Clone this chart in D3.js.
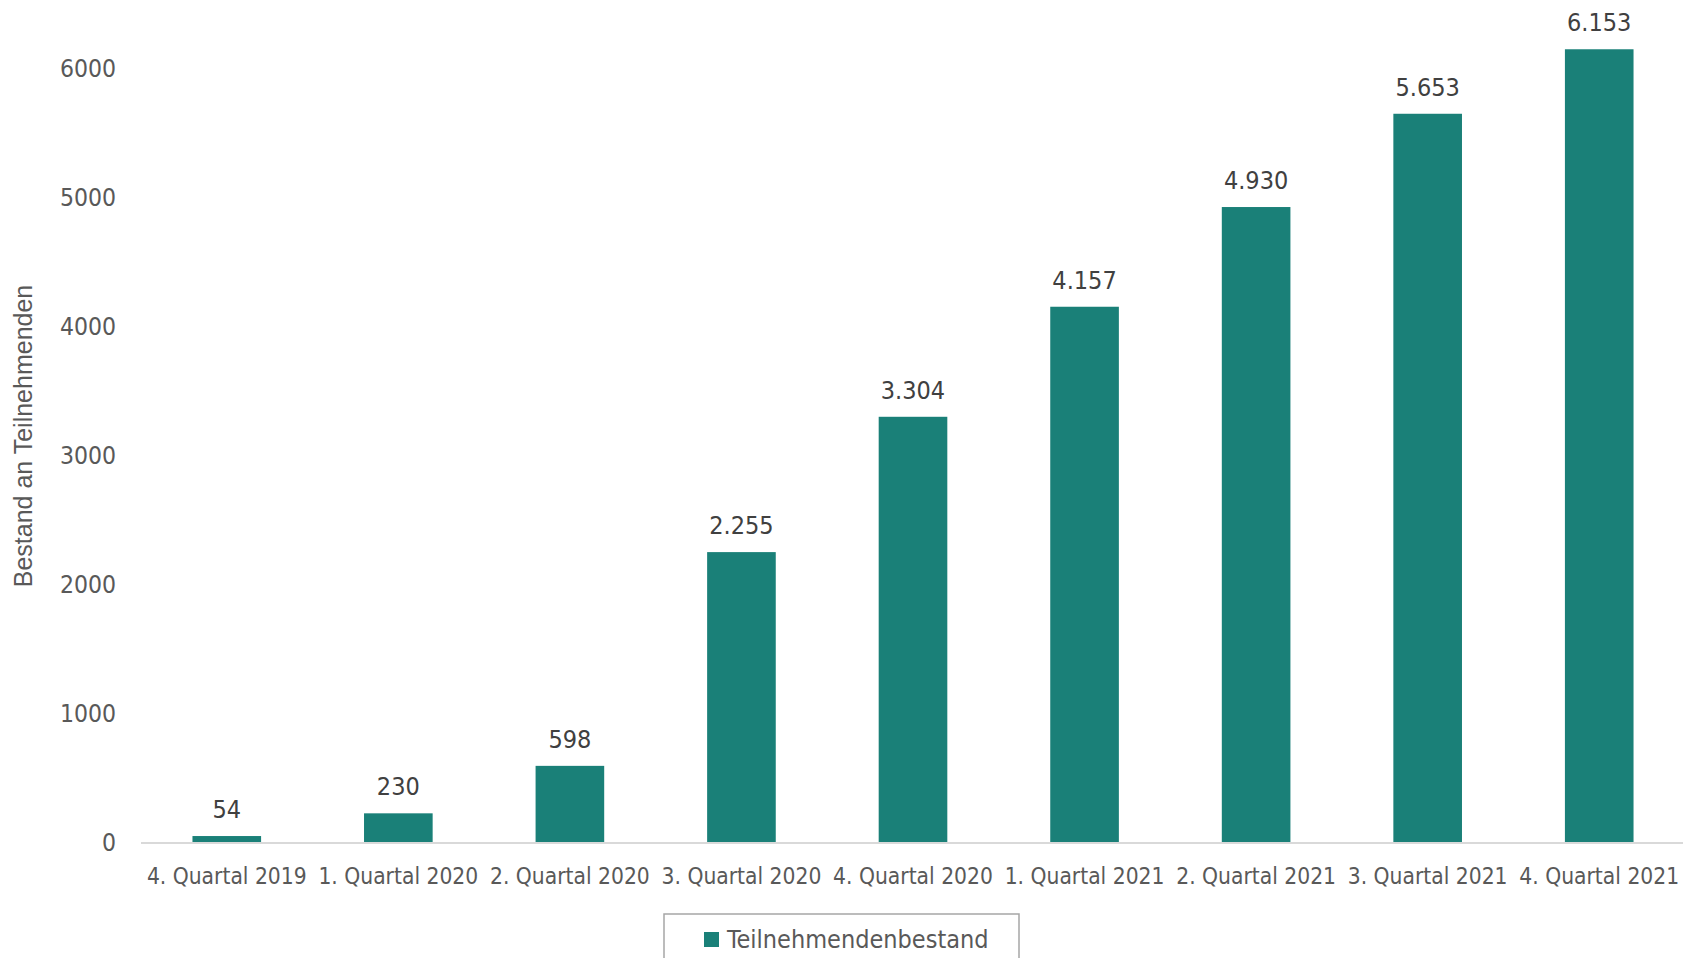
<!DOCTYPE html>
<html>
<head>
<meta charset="utf-8">
<script src="https://cdn.jsdelivr.net/npm/d3@7"></script>
<style>
  body { margin: 0; background: #fff; }
  svg { display: block; }
  .cond { font-family: 'DejaVu Sans Condensed', 'DejaVu Sans'; font-stretch: condensed; }
</style>
</head>
<body>
<svg id="chart" width="1683" height="958"></svg>
<script>
// chart data
const quarters = ['4. Quartal 2019', '1. Quartal 2020', '2. Quartal 2020', '3. Quartal 2020',
    '4. Quartal 2020', '1. Quartal 2021', '2. Quartal 2021', '3. Quartal 2021', '4. Quartal 2021']
const bestand = [54, 230, 598, 2255, 3304, 4157, 4930, 5653, 6153]
const yTicks = [0, 1000, 2000, 3000, 4000, 5000, 6000]
const seriesName = 'Teilnehmendenbestand'
const yTitle = 'Bestand an Teilnehmenden'

const teal = '#1a8078'

const svg = d3.select('#chart')

const x = d3.scaleBand()
    .domain(quarters)
    .range([141, 1685])
    .paddingInner(0.6)
    .paddingOuter(0.3)

const y = d3.scaleLinear()
    .domain([0, 6000])
    .range([843, 69])

// bars
svg.append('g')
    .selectAll('rect')
    .data(bestand)
    .join('rect')
        .attr('x', (d, i) => x(quarters[i]))
        .attr('y', d => y(d))
        .attr('width', x.bandwidth())
        .attr('height', d => y(0) - y(d))
        .attr('fill', teal)

// value labels, german thousands separator
const fmt = d3.formatLocale({decimal: ',', thousands: '.', grouping: [3], currency: ['', '€']}).format(',d')

svg.append('g')
    .selectAll('text')
    .data(bestand)
    .join('text')
        .attr('class', 'cond')
        .attr('x', (d, i) => x(quarters[i]) + x.bandwidth() / 2)
        .attr('y', d => y(d) - 18)
        .attr('text-anchor', 'middle')
        .attr('font-size', 25)
        .attr('fill', '#404040')
        .text(d => fmt(d))

// x axis
const gx = svg.append('g')
    .attr('transform', `translate(0, ${y(0)})`)
    .call(d3.axisBottom(x).tickSize(0).tickPadding(0))
gx.attr('font-family', null)
gx.select('.domain').attr('stroke', '#d9d9d9').attr('stroke-width', 2)
    .attr('d', `M141,0H1683`)
gx.selectAll('text')
    .attr('class', 'cond')
    .attr('dy', 0)
    .attr('y', 41)
    .attr('font-size', 22.6)
    .attr('fill', '#595959')

// y axis (labels only)
const gy = svg.append('g')
    .attr('transform', 'translate(116, 0)')
    .call(d3.axisLeft(y).tickValues(yTicks).tickFormat(d3.format('d')).tickSize(0).tickPadding(0))
gy.attr('font-family', null)
gy.select('.domain').remove()
gy.selectAll('text')
    .attr('class', 'cond')
    .attr('font-size', 24.5)
    .attr('fill', '#595959')

// y axis title
svg.append('text')
    .attr('transform', 'translate(32, 436) rotate(-90)')
    .attr('text-anchor', 'middle')
    .attr('font-family', 'Liberation Sans')
    .attr('font-size', 25)
    .attr('fill', '#595959')
    .text(yTitle)

// legend
const lg = svg.append('g')
lg.append('rect')
    .attr('x', 664).attr('y', 914)
    .attr('width', 355).attr('height', 70)
    .attr('fill', 'none')
    .attr('stroke', '#a6a6a6')
    .attr('stroke-width', 1.5)
lg.append('rect')
    .attr('x', 704).attr('y', 932)
    .attr('width', 15).attr('height', 15)
    .attr('fill', teal)
lg.append('text')
    .attr('class', 'cond')
    .attr('x', 727).attr('y', 948)
    .attr('font-size', 25)
    .attr('fill', '#595959')
    .text(seriesName)
</script>
</body>
</html>
